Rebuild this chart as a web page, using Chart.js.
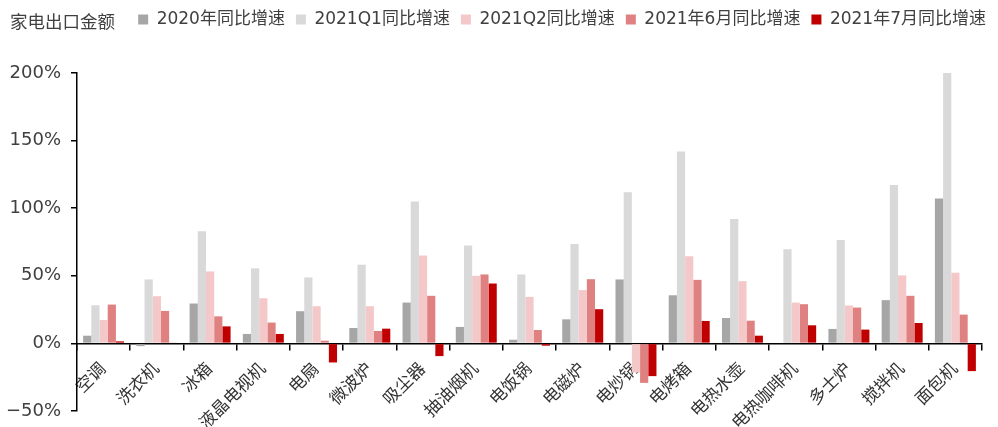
<!DOCTYPE html>
<html><head><meta charset="utf-8">
<script src="https://cdn.jsdelivr.net/npm/chart.js@4.4.1/dist/chart.umd.min.js"></script>
<style>
html,body{margin:0;padding:0;background:#fff;}
#wrap{position:relative;width:998px;height:427px;overflow:hidden;}
#title{position:absolute;left:10px;top:8px;font-size:17.5px;font-family:'DejaVu Sans','Noto Sans CJK SC',sans-serif;color:#404040;}
canvas{display:block}
</style></head><body>
<div id="wrap"><canvas id="c" width="998" height="427"></canvas><div id="title">家电出口金额</div></div>
<script>
const categories = ['空调','洗衣机','冰箱','液晶电视机','电扇','微波炉','吸尘器','抽油烟机','电饭锅','电磁炉','电炒锅','电烤箱','电热水壶','电热咖啡机','多士炉','搅拌机','面包机'];
const seriesNames = ['2020年同比增速','2021Q1同比增速','2021Q2同比增速','2021年6月同比增速','2021年7月同比增速'];
const y2020 = [5.7, -2, 29.5, 7, 23.8, 11.4, 30.2, 12.2, 2.7, 17.8, 47.3, 35.6, 18.8, 0, 10.7, 32, 107.2];
const q1_2021 = [28.2, 47.3, 82.9, 55.5, 48.8, 58.2, 105, 72.5, 51, 73.5, 111.8, 142, 92, 69.6, 76.5, 117.2, 200];
const q2_2021 = [17.3, 34.9, 53.2, 33.4, 27.5, 27.5, 65.1, 50, 34.4, 39.4, -21.5, 64.4, 46, 30.2, 28, 50.3, 52.3];
const jun_2021 = [28.7, 24, 20, 15.4, 2, 9.2, 35.2, 51, 9.9, 47.5, -29.2, 47, 16.8, 29, 26.5, 35.2, 21.3];
const jul_2021 = [1.5, 0.5, 12.6, 7, -14.1, 10.9, -9.4, 44.3, -1.7, 25.3, -24.2, 16.6, 5.7, 13.4, 10.2, 15.1, -20.5];
const yTicks = [-50, 0, 50, 100, 150, 200];

const colors = ['#a6a6a6', '#d9d9d9', '#f4c7c8', '#df8081', '#c00000'];
const allSeries = [y2020, q1_2021, q2_2021, jun_2021, jul_2021];

const FONT = "'DejaVu Sans','Noto Sans CJK SC',sans-serif";
const CHART_TOP = 73;
const LEGEND_SHIFT = 15;

const legendSpacer = {
  id: 'legendSpacer',
  afterInit(chart) {
    const lg = chart.legend;
    const orig = lg.fit.bind(lg);
    lg.fit = function() { orig(); this.height = CHART_TOP; };
  },
  afterLayout(chart) {
    const lg = chart.legend;
    lg.left += LEGEND_SHIFT;
    lg.right += LEGEND_SHIFT;
  }
};

new Chart(document.getElementById('c'), {
  type: 'bar',
  data: {
    labels: categories,
    datasets: allSeries.map((d, i) => ({
      label: seriesNames[i],
      data: d,
      backgroundColor: colors[i],
      borderWidth: 0,
      categoryPercentage: 0.77,
      barPercentage: 1.0
    }))
  },
  options: {
    responsive: false,
    animation: false,
    devicePixelRatio: 1,
    layout: { padding: { left: 0, right: 16, top: 0, bottom: 16 } },
    plugins: {
      legend: {
        display: true,
        position: 'top',
        align: 'end',
        labels: {
          boxWidth: 10,
          boxHeight: 10,
          padding: 11,
          color: '#404040',
          font: { size: 17, family: FONT }
        }
      },
      tooltip: { enabled: false },
      title: { display: false }
    },
    scales: {
      x: {
        type: 'category',
        position: { y: 0 },
        offset: true,
        grid: {
          display: true,
          drawOnChartArea: false,
          drawTicks: true,
          tickLength: 6,
          offset: true,
          color: '#000',
          lineWidth: 1.5
        },
        border: { display: true, color: '#000', width: 1.5 },
        ticks: {
          autoSkip: false,
          minRotation: 45,
          maxRotation: 45,
          padding: 10,
          color: '#333',
          font: { size: 17, family: FONT }
        }
      },
      y: {
        min: -50,
        max: 200,
        afterFit(scale) {
          scale.width = 77;
          scale.paddingTop = 4;
          scale.paddingBottom = 4;
        },
        afterBuildTicks(scale) { scale.ticks = yTicks.map(v => ({ value: v })); },
        grid: {
          display: true,
          drawOnChartArea: false,
          drawTicks: true,
          tickLength: 6,
          color: '#000',
          lineWidth: 1.5
        },
        border: { display: true, color: '#000', width: 1.5 },
        ticks: {
          padding: 10,
          color: '#404040',
          font: { size: 18, family: FONT },
          callback: v => (v < 0 ? '−' + Math.abs(v) : v) + '%'
        }
      }
    }
  },
  plugins: [legendSpacer]
});
</script>
</body></html>
